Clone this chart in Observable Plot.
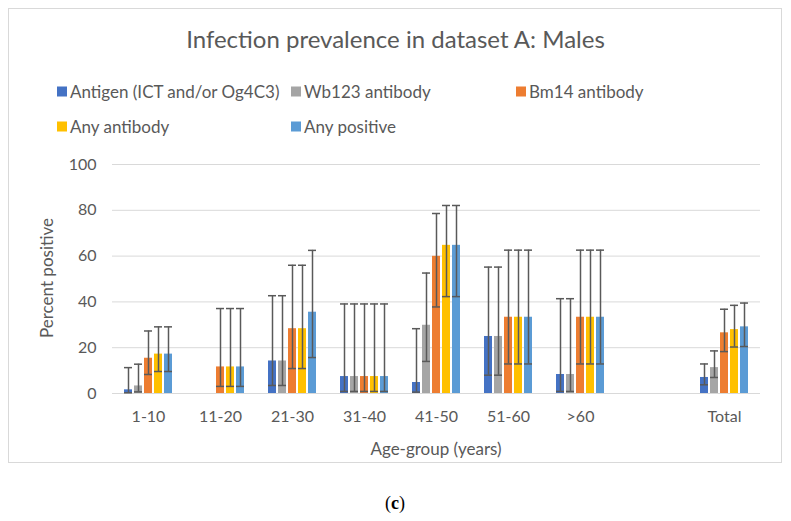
<!DOCTYPE html>
<html><head><meta charset="utf-8">
<script src="https://cdn.jsdelivr.net/npm/d3@7"></script>
<script src="https://cdn.jsdelivr.net/npm/@observablehq/plot@0.6"></script>
<style>
body{margin:0;background:#fff;font-family:Lato,"Open Sans",sans-serif;}
#wrap{position:relative;width:791px;height:521px;overflow:hidden;}
#box{position:absolute;left:8px;top:8px;width:774px;height:455px;border:1px solid #d9d9d9;box-sizing:border-box;}
#title{position:absolute;left:0;width:791px;top:24px;text-align:center;font-size:24px;color:#595959;}
.leg{position:absolute;font-size:17px;color:#595959;display:flex;align-items:center;white-space:nowrap;transform:translateY(-50%);}
.leg .sw{width:10px;height:10px;margin-right:3px;display:inline-block;}
#chart{position:absolute;left:0;top:150px;}
#ytitle{position:absolute;left:46px;top:278px;transform:translate(-50%,-50%) rotate(-90deg);font-size:17px;color:#595959;white-space:nowrap;}
#xtitle{position:absolute;left:436px;top:448px;transform:translate(-50%,-50%);font-size:17px;color:#595959;white-space:nowrap;}
#cap{position:absolute;left:395px;top:503px;transform:translate(-50%,-50%);font-size:18px;font-family:"Liberation Serif",serif;color:#000;}
</style></head>
<body>
<div id="wrap">
  <div id="box"></div>
  <div id="title">Infection prevalence in dataset A: Males</div>
  <div id="legend"></div>
  <div id="chart"></div>
  <div id="ytitle">Percent positive</div>
  <div id="xtitle">Age-group (years)</div>
  <div id="cap">(<b>c</b>)</div>
</div>
<script>
// categories ("" is the empty slot before Total)
const categories = ["1-10", "11-20", "21-30", "31-40", "41-50", "51-60", ">60", "", "Total"];
const seriesNames = ["Antigen (ICT and/or Og4C3)", "Wb123 antibody", "Bm14 antibody", "Any antibody", "Any positive"];
const seriesColors = ["#4472C4", "#A5A5A5", "#ED7D31", "#FFC000", "#5B9BD5"];
const yTicks = [0, 20, 40, 60, 80, 100];

const antigen   = [1.6, 0, 14.2, 7.4, 4.8, 24.9, 8.3, null, 7.0];
const antigenLo = [0.3, null, 3.5, 0.9, 0.6, 8.0, 0.9, null, 3.8];
const antigenHi = [11.3, null, 42.7, 39.1, 28.3, 55.2, 41.4, null, 12.9];

const wb123   = [3.3, 0, 14.2, 7.4, 29.8, 24.9, 8.3, null, 11.3];
const wb123Lo = [0.7, null, 3.5, 0.9, 14.0, 8.0, 0.9, null, 7.0];
const wb123Hi = [12.8, null, 42.7, 39.1, 52.6, 55.2, 41.4, null, 18.6];

const bm14   = [15.4, 11.6, 28.3, 7.4, 59.9, 33.3, 33.3, null, 26.5];
const bm14Lo = [8.3, 3.1, 10.9, 0.9, 37.8, 12.9, 12.9, null, 18.3];
const bm14Hi = [27.3, 37.1, 56.0, 39.1, 78.6, 62.6, 62.6, null, 36.8];

const anyAb   = [17.2, 11.6, 28.3, 7.4, 64.7, 33.3, 33.3, null, 27.9];
const anyAbLo = [9.6, 3.1, 10.9, 0.9, 42.3, 12.9, 12.9, null, 20.3];
const anyAbHi = [29.1, 37.1, 56.0, 39.1, 82.1, 62.6, 62.6, null, 38.5];

const anyPos   = [17.2, 11.6, 35.5, 7.4, 64.7, 33.3, 33.3, null, 29.1];
const anyPosLo = [9.6, 3.1, 15.7, 0.9, 42.3, 12.9, 12.9, null, 20.5];
const anyPosHi = [29.1, 37.1, 62.5, 39.1, 82.1, 62.6, 62.6, null, 39.5];

const seriesValues = [antigen, wb123, bm14, anyAb, anyPos];
const seriesLo = [antigenLo, wb123Lo, bm14Lo, anyAbLo, anyPosLo];
const seriesHi = [antigenHi, wb123Hi, bm14Hi, anyAbHi, anyPosHi];

const rows = [];
categories.forEach((c, i) => seriesNames.forEach((s, j) => {
  rows.push({cat: c, series: s, v: seriesValues[j][i], lo: seriesLo[j][i], hi: seriesHi[j][i]});
}));

// legend
const legPos = [[57, 91], [291, 91], [516, 91], [57, 126], [291, 126]];
const legend = document.getElementById("legend");
seriesNames.forEach((s, j) => {
  const d = document.createElement("div");
  d.className = "leg";
  d.style.left = legPos[j][0] + "px";
  d.style.top = legPos[j][1] + "px";
  d.innerHTML = `<span class="sw" style="background:${seriesColors[j]}"></span>${s}`;
  legend.appendChild(d);
});

const chart = Plot.plot({
  width: 791, height: 310,
  marginTop: 14, marginBottom: 67, marginLeft: 111, marginRight: 30,
  style: {fontFamily: "Lato, 'Open Sans', sans-serif", fontSize: "16px", color: "#595959", background: "transparent"},
  fx: {domain: categories, padding: 0, label: null},
  x: {domain: seriesNames, paddingInner: 0.18, paddingOuter: 0.88, axis: null},
  y: {domain: [0, 100], axis: null},
  color: {domain: seriesNames, range: seriesColors},
  marks: [
    Plot.ruleY(yTicks, {stroke: "#d9d9d9", strokeWidth: 1}),
    Plot.barY(rows, {fx: "cat", x: "series", y: "v", fill: "series"}),
    Plot.ruleX(rows, {fx: "cat", x: "series", y1: "lo", y2: "hi", stroke: "#595959", strokeWidth: 1.5}),
    Plot.tickY(rows, {fx: "cat", x: "series", y: "hi", stroke: "#595959", strokeWidth: 1.5}),
    Plot.tickY(rows, {fx: "cat", x: "series", y: "lo", stroke: "#595959", strokeWidth: 1.5}),
    Plot.axisY({ticks: yTicks, tickSize: 0, tickPadding: 16, label: null, fill: "#595959"}),
    Plot.axisFx({anchor: "bottom", tickSize: 0, tickPadding: 17, label: null, fill: "#595959"})
  ]
});
document.getElementById("chart").appendChild(chart);
</script>
</body></html>
